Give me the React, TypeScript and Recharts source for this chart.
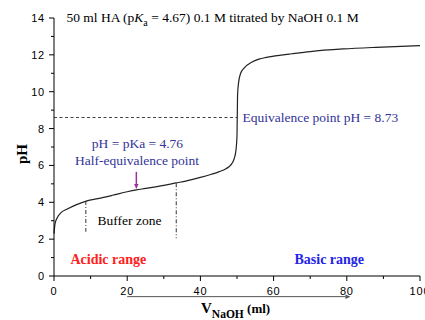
import React from "react";
import { LineChart, Line, XAxis, YAxis, ReferenceLine, ReferenceDot } from "recharts";

const volumes = [0, 0.3, 1, 2, 3.5, 6, 9, 12, 16, 20, 22.5, 25, 30, 33.3, 36, 40, 43, 45, 47, 48.2, 49.2, 49.7, 50, 50.15, 50.4, 51, 52, 54, 56, 58, 61.5, 65, 70, 79, 88, 100];
const phValues = [2.3, 2.85, 3.2, 3.45, 3.62, 3.86, 4.08, 4.2, 4.38, 4.57, 4.67, 4.75, 4.92, 5.05, 5.15, 5.35, 5.52, 5.65, 5.82, 6.0, 6.35, 6.8, 7.6, 9.8, 10.45, 11.0, 11.3, 11.6, 11.77, 11.86, 11.97, 12.06, 12.18, 12.32, 12.41, 12.5];
const xTicks = [0, 10, 20, 30, 40, 50, 60, 70, 80, 90, 100];
const yTicks = [0, 1, 2, 3, 4, 5, 6, 7, 8, 9, 10, 11, 12, 13, 14];

const equivalencePH = 8.6;
const halfEqV = 22.5;
const bufferStart = { v: 8.7, top: 4.07, bottom: 2.4 };
const bufferEnd = { v: 33.4, top: 5.03, bottom: 2.05 };

const data = volumes.map((v, i) => ({ v, ph: phValues[i] }));

const SERIF = "'Liberation Serif', 'Times New Roman', serif";
const SANS = "'Liberation Sans', Arial, sans-serif";
const TICK_SIZE = 5;
const TICK_MARGIN = 2;
const BLUE = "#333399";

const YTick = (props: any) => {
  const { x, y, payload } = props;
  const v = payload.value;
  const ax = x + TICK_SIZE + TICK_MARGIN;
  const major = v % 2 === 0;
  return (
    <g>
      <line x1={ax - (major ? 5 : 3)} x2={ax} y1={y} y2={y} stroke="#000" strokeWidth={1} />
      {major && (
        <text x={ax - 9} y={y} dy={4} textAnchor="end" style={{ fontFamily: SANS, fontSize: 11, letterSpacing: 0.8 }} fill="#000">
          {v}
        </text>
      )}
    </g>
  );
};

const XTick = (props: any) => {
  const { x, y, payload } = props;
  const v = payload.value;
  const ay = y - TICK_SIZE - TICK_MARGIN;
  const major = v % 20 === 0;
  return (
    <g>
      <line x1={x} x2={x} y1={ay} y2={ay + (major ? 5 : 3)} stroke="#000" strokeWidth={1} />
      {major && (
        <text x={x} y={ay + 19} textAnchor="middle" style={{ fontFamily: SANS, fontSize: 11, letterSpacing: 0.8 }} fill="#000">
          {v}
        </text>
      )}
    </g>
  );
};

const arrowShape = (color: string, width: number, head: number) => (p: any) => {
  const { x1, y1, x2, y2 } = p;
  const dx = x2 - x1;
  const dy = y2 - y1;
  const len = Math.sqrt(dx * dx + dy * dy) || 1;
  const ux = dx / len;
  const uy = dy / len;
  const bx = x2 - ux * head;
  const by = y2 - uy * head;
  const hw = head * 0.45;
  return (
    <g>
      <line x1={x1} y1={y1} x2={bx} y2={by} stroke={color} strokeWidth={width} />
      <polygon
        points={`${x2},${y2} ${bx - uy * hw},${by + ux * hw} ${bx + uy * hw},${by - ux * hw}`}
        fill={color}
      />
    </g>
  );
};

const textShape = (content: React.ReactNode, style: any, attrs: any = {}) => (p: any) => (
  <text x={p.cx} y={p.cy} {...attrs} style={{ fontFamily: SERIF, ...style }}>
    {content}
  </text>
);

const XLabel = (props: any) => {
  const vb = props.viewBox || {};
  const cx = vb.x + vb.width / 2;
  return (
    <text x={cx - 36} y={313} style={{ fontFamily: SERIF, fontWeight: "bold" }} fill="#000">
      <tspan fontSize={15}>V</tspan>
      <tspan fontSize={11.5} dy={5}>NaOH</tspan>
      <tspan fontSize={13} dy={-5}> (ml)</tspan>
    </text>
  );
};

const YLabel = () => (
  <text x={22} y={154} transform="rotate(-90 22 154)" textAnchor="middle" dy={5} style={{ fontFamily: SERIF, fontWeight: "bold", fontSize: 15 }} fill="#000">
    pH
  </text>
);

export default function App() {
  return (
    <div style={{ position: "absolute", left: 0, top: 0 }}>
      <LineChart width={425} height={320} data={data} margin={{ top: 18, right: 5, left: 0, bottom: 0 }}>
        <XAxis
          type="number"
          dataKey="v"
          domain={[0, 100]}
          ticks={xTicks}
          interval={0}
          height={44}
          tickSize={TICK_SIZE}
          tickMargin={TICK_MARGIN}
          tickLine={false}
          axisLine={{ stroke: "#000" }}
          tick={<XTick />}
          label={<XLabel />}
        />
        <YAxis
          type="number"
          domain={[0, 14]}
          ticks={yTicks}
          interval={0}
          width={54}
          tickSize={TICK_SIZE}
          tickMargin={TICK_MARGIN}
          tickLine={false}
          axisLine={{ stroke: "#000" }}
          tick={<YTick />}
          label={<YLabel />}
        />
        <ReferenceLine
          segment={[{ x: 0, y: equivalencePH }, { x: 50, y: equivalencePH }]}
          stroke="#444"
          strokeDasharray="3 2.5"
          strokeWidth={1}
        />
        <ReferenceLine
          segment={[{ x: bufferStart.v, y: bufferStart.top }, { x: bufferStart.v, y: bufferStart.bottom }]}
          stroke="#333"
          strokeDasharray="4 2 1 2"
          strokeWidth={1}
        />
        <ReferenceLine
          segment={[{ x: bufferEnd.v, y: bufferEnd.top }, { x: bufferEnd.v, y: bufferEnd.bottom }]}
          stroke="#333"
          strokeDasharray="4 2 1 2"
          strokeWidth={1}
        />
        <ReferenceLine
          segment={[{ x: halfEqV, y: 5.65 }, { x: halfEqV, y: 4.72 }]}
          shape={arrowShape("#993399", 1.5, 5)}
        />
        <ReferenceLine
          segment={[{ x: 20, y: -1.12 }, { x: 81, y: -1.12 }]}
          ifOverflow="visible"
          shape={arrowShape("#555", 1, 5)}
        />
        <Line
          type="monotone"
          dataKey="ph"
          stroke="#222"
          strokeWidth={1.2}
          dot={false}
          isAnimationActive={false}
        />
        <ReferenceDot
          x={3.4}
          y={13.78}
          r={0}
          shape={textShape(
            <>
              <tspan>50 ml HA (p</tspan>
              <tspan fontStyle="italic">K</tspan>
              <tspan fontSize={10} dy={4}>a</tspan>
              <tspan dy={-4}> = 4.67) 0.1 M titrated by NaOH 0.1 M</tspan>
            </>,
            { fontSize: 13.5 },
            { fill: "#000" }
          )}
        />
        <ReferenceDot
          x={22.8}
          y={6.95}
          r={0}
          shape={textShape("pH = pKa = 4.76", { fontSize: 13.5 }, { fill: BLUE, textAnchor: "middle" })}
        />
        <ReferenceDot
          x={22.7}
          y={6.02}
          r={0}
          shape={textShape("Half-equivalence point", { fontSize: 13.5 }, { fill: BLUE, textAnchor: "middle" })}
        />
        <ReferenceDot
          x={51.5}
          y={8.37}
          r={0}
          shape={textShape("Equivalence point pH = 8.73", { fontSize: 13.5 }, { fill: BLUE })}
        />
        <ReferenceDot
          x={11.9}
          y={2.77}
          r={0}
          shape={textShape("Buffer zone", { fontSize: 13.5 }, { fill: "#000" })}
        />
        <ReferenceDot
          x={4.5}
          y={0.65}
          r={0}
          shape={textShape("Acidic range", { fontSize: 14, fontWeight: "bold" }, { fill: "#ff2020" })}
        />
        <ReferenceDot
          x={65.7}
          y={0.65}
          r={0}
          shape={textShape("Basic range", { fontSize: 14, fontWeight: "bold" }, { fill: "#2424e6" })}
        />
      </LineChart>
    </div>
  );
}
